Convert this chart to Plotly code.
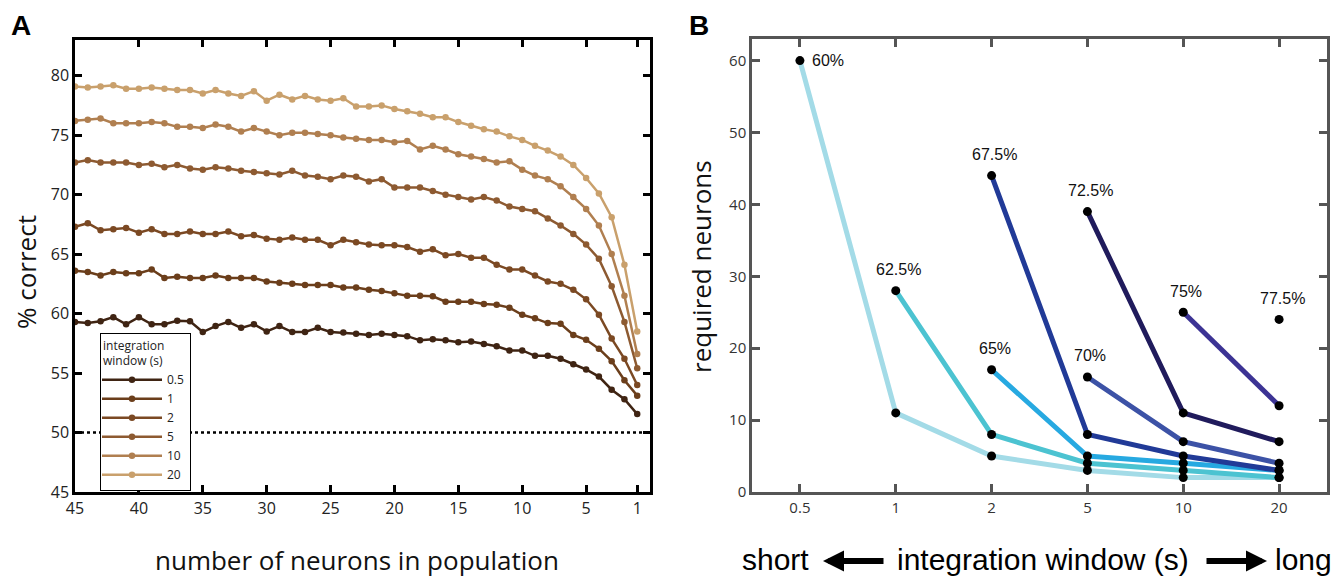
import plotly.graph_objects as go

# ---------------- Panel A data ----------------
neurons = [45, 44, 43, 42, 41, 40, 39, 38, 37, 36, 35, 34, 33, 32, 31, 30, 29, 28, 27, 26, 25,
           24, 23, 22, 21, 20, 19, 18, 17, 16, 15, 14, 13, 12, 11, 10, 9, 8, 7, 6, 5, 4, 3, 2, 1]

acc_0_5 = [59.3, 59.2, 59.35, 59.7, 59.1, 59.7, 59.1, 59.1, 59.4, 59.35, 58.45, 58.95, 59.3, 58.8, 59.1,
           58.5, 58.95, 58.45, 58.45, 58.8, 58.45,
           58.4, 58.3, 58.2, 58.3, 58.2, 58.1, 57.75, 57.85, 57.75, 57.6, 57.65, 57.45, 57.25, 56.9,
           56.9, 56.45, 56.45, 56.2, 55.75, 55.3, 54.7, 53.6, 52.8, 51.55]
acc_1 = [63.6, 63.5, 63.2, 63.5, 63.4, 63.4, 63.7, 63.0, 63.1, 63.0, 63.0, 63.2, 63.0, 63.0, 63.0,
         62.7, 62.6, 62.5, 62.4, 62.4, 62.4,
         62.2, 62.2, 62.0, 61.9, 61.7, 61.5, 61.5, 61.45, 61.0, 61.0, 61.0, 60.8, 60.75, 60.5,
         59.9, 59.6, 59.2, 59.15, 58.2, 57.8, 57.05, 56.0, 54.4, 53.1]
acc_2 = [67.3, 67.6, 67.0, 67.1, 67.2, 66.8, 67.1, 66.7, 66.7, 66.9, 66.7, 66.7, 66.9, 66.5, 66.6,
         66.3, 66.2, 66.4, 66.2, 66.2, 65.75,
         66.2, 66.0, 65.8, 65.75, 65.75, 65.6, 65.2, 65.4, 64.9, 65.0, 64.7, 64.7, 64.1, 63.7,
         63.7, 63.2, 62.7, 62.5, 62.0, 61.2, 59.9, 57.9, 56.2, 54.0]
acc_5 = [72.7, 72.9, 72.7, 72.7, 72.7, 72.5, 72.6, 72.3, 72.5, 72.2, 72.1, 72.3, 72.2, 72.0, 71.9,
         71.8, 71.7, 72.0, 71.6, 71.5, 71.3,
         71.6, 71.5, 71.1, 71.3, 70.6, 70.6, 70.6, 70.3, 70.0, 69.8, 69.6, 69.8, 69.5, 69.0,
         68.8, 68.6, 68.0, 67.4, 66.7, 65.8, 64.6, 62.3, 59.3, 55.4]
acc_10 = [76.2, 76.3, 76.4, 76.0, 76.0, 76.0, 76.1, 76.0, 75.7, 75.7, 75.6, 75.9, 75.7, 75.3, 75.6,
          75.3, 75.0, 75.2, 75.2, 75.1, 75.0,
          74.8, 74.7, 74.6, 74.6, 74.4, 74.5, 73.8, 74.1, 73.8, 73.4, 73.2, 73.0, 72.7, 72.8,
          72.1, 71.6, 71.3, 70.7, 69.8, 68.8, 67.4, 65.0, 61.5, 56.6]
acc_20 = [79.1, 79.0, 79.1, 79.2, 78.9, 78.9, 79.0, 78.9, 78.8, 78.8, 78.5, 78.8, 78.5, 78.3, 78.7,
          77.9, 78.4, 78.0, 78.3, 78.0, 77.9,
          78.1, 77.4, 77.4, 77.5, 77.2, 77.0, 76.8, 76.5, 76.5, 76.1, 75.8, 75.5, 75.3, 74.9,
          74.6, 74.1, 73.7, 73.2, 72.5, 71.4, 70.1, 68.1, 64.1, 58.5]

window_labels_a = ["0.5", "1", "2", "5", "10", "20"]
series_a = [acc_0_5, acc_1, acc_2, acc_5, acc_10, acc_20]
colors_a = ["#3f2413", "#6b3e1b", "#7b4923", "#8d5a31", "#b07f50", "#c9a06c"]
chance_level = 50
x_ticks_a = [45, 40, 35, 30, 25, 20, 15, 10, 5, 1]
y_ticks_a = [45, 50, 55, 60, 65, 70, 75, 80]

# ---------------- Panel B data ----------------
windows = ["0.5", "1", "2", "5", "10", "20"]
thresholds = ["60%", "62.5%", "65%", "67.5%", "70%", "72.5%", "75%", "77.5%"]
req_60 = [60, 11, 5, 3, 2, 2]
req_62_5 = [None, 28, 8, 4, 3, 2]
req_65 = [None, None, 17, 5, 4, 3]
req_67_5 = [None, None, 44, 8, 5, 3]
req_70 = [None, None, None, 16, 7, 4]
req_72_5 = [None, None, None, 39, 11, 7]
req_75 = [None, None, None, None, 25, 12]
req_77_5 = [None, None, None, None, None, 24]
series_b = [req_60, req_62_5, req_65, req_67_5, req_70, req_72_5, req_75, req_77_5]
colors_b = ["#a3dbe7", "#4cc3d1", "#27a9e1", "#213a97", "#3c52a6", "#201b5c", "#3c3394", "#3c3394"]
y_ticks_b = [0, 10, 20, 30, 40, 50, 60]

W, H = 1344, 579
def px(x):
    return x / W
def py(y):
    return 1 - y / H

fig = go.Figure()

# Panel A traces
for lab, vals, col in zip(window_labels_a, series_a, colors_a):
    fig.add_trace(go.Scatter(
        x=neurons, y=vals, mode="lines+markers", name=lab,
        line=dict(color=col, width=2.5), marker=dict(color=col, size=6.5),
        xaxis="x", yaxis="y", showlegend=True))

# Panel B lines
for thr, vals, col in zip(thresholds, series_b, colors_b):
    pts = [(w, v) for w, v in zip(windows, vals) if v is not None]
    fig.add_trace(go.Scatter(
        x=[p[0] for p in pts], y=[p[1] for p in pts], mode="lines",
        line=dict(color=col, width=5), xaxis="x2", yaxis="y2", showlegend=False,
        hoverinfo="skip"))
# Panel B markers on top
for thr, vals in zip(thresholds, series_b):
    pts = [(w, v) for w, v in zip(windows, vals) if v is not None]
    fig.add_trace(go.Scatter(
        x=[p[0] for p in pts], y=[p[1] for p in pts], mode="markers",
        marker=dict(color="black", size=9), xaxis="x2", yaxis="y2", showlegend=False))

annotations = []
lab_font = dict(family="Liberation Sans", size=16, color="#111")
# threshold labels (x given as category index)
for thr, vals in zip(thresholds, series_b):
    i0 = next(i for i, v in enumerate(vals) if v is not None)
    if i0 == 0:
        annotations.append(dict(x=i0, y=vals[i0], xref="x2", yref="y2", text=thr,
                                showarrow=False, xanchor="left", yanchor="middle", xshift=10,
                                font=lab_font))
    else:
        annotations.append(dict(x=i0, y=vals[i0], xref="x2", yref="y2", text=thr,
                                showarrow=False, xanchor="center", yanchor="middle", yshift=21, xshift=3,
                                font=lab_font))

# panel letters
annotations.append(dict(x=px(21), y=py(25), xref="paper", yref="paper", text="<b>A</b>", showarrow=False,
                        xanchor="center", yanchor="middle",
                        font=dict(family="Liberation Sans", size=28, color="black")))
annotations.append(dict(x=px(699), y=py(25), xref="paper", yref="paper", text="<b>B</b>", showarrow=False,
                        xanchor="center", yanchor="middle",
                        font=dict(family="Liberation Sans", size=28, color="black")))
# axis titles
tf = dict(family="Open Sans", size=26, color="#111")
annotations.append(dict(x=px(26), y=py(272), xref="paper", yref="paper", text="% correct", textangle=-90,
                        xanchor="center", yanchor="middle", showarrow=False, font=tf))
annotations.append(dict(x=px(357), y=py(560), xref="paper", yref="paper", text="number of neurons in population",
                        xanchor="center", yanchor="middle", showarrow=False, font=tf))
annotations.append(dict(x=px(701), y=py(267), xref="paper", yref="paper", text="required neurons", textangle=-90,
                        xanchor="center", yanchor="middle", showarrow=False, font=tf))
# bottom text panel B
bf = dict(family="Liberation Sans", size=30, color="black")
annotations.append(dict(x=px(740), y=py(559), xref="paper", yref="paper", text="short", xanchor="left",
                        yanchor="middle", showarrow=False, font=bf))
annotations.append(dict(x=px(895), y=py(559), xref="paper", yref="paper", text="integration window (s)",
                        xanchor="left", yanchor="middle", showarrow=False, font=bf))
annotations.append(dict(x=px(1273), y=py(559), xref="paper", yref="paper", text="long", xanchor="left",
                        yanchor="middle", showarrow=False, font=bf))
annotations.append(dict(x=px(823), y=py(561), xref="paper", yref="paper", text="", showarrow=True,
                        ax=62, ay=0, arrowhead=2, arrowwidth=6, arrowsize=0.7, arrowcolor="black"))
annotations.append(dict(x=px(1267), y=py(561), xref="paper", yref="paper", text="", showarrow=True,
                        ax=-62, ay=0, arrowhead=2, arrowwidth=6, arrowsize=0.7, arrowcolor="black"))

axA = dict(showline=True, linecolor="black", linewidth=2.5, mirror="ticks", ticks="inside",
           ticklen=7, tickwidth=2.5, tickcolor="black", showgrid=False, zeroline=False, automargin=False,
           tickfont=dict(family="Open Sans", size=16, color="#222"))
axB = dict(showline=True, linecolor="#555", linewidth=2.5, mirror="ticks", ticks="inside",
           ticklen=8, tickwidth=2.5, tickcolor="#555", showgrid=False, zeroline=False, automargin=False,
           tickfont=dict(family="Open Sans", size=15, color="#333"))

fig.update_layout(
    width=W, height=H, margin=dict(l=0, r=0, t=0, b=0, autoexpand=False),
    plot_bgcolor="white", paper_bgcolor="white",
    xaxis=dict(domain=[px(75), px(650)], anchor="y", range=[45, 0], tickvals=x_ticks_a, **axA),
    yaxis=dict(domain=[py(492), py(40)], anchor="x", range=[45, 83], tickvals=y_ticks_a, **axA),
    xaxis2=dict(domain=[px(752), px(1327)], anchor="y2", type="category", categoryorder="array",
                categoryarray=windows, range=[-0.5, 5.5], **axB),
    yaxis2=dict(domain=[py(492), py(39)], anchor="x2", range=[0, 63], tickvals=y_ticks_b, **axB),
    legend=dict(x=px(100), y=py(333), xanchor="left", yanchor="top", bordercolor="black", borderwidth=1,
                bgcolor="white", font=dict(family="Open Sans", size=12, color="#222"),
                title=dict(text="integration<br>window (s)", font=dict(family="Open Sans", size=12, color="#222")),
                tracegroupgap=0, itemwidth=60, indentation=-4),
    shapes=[dict(type="line", xref="x domain", yref="y", x0=0, x1=1, y0=chance_level, y1=chance_level,
                 line=dict(color="black", width=2.5, dash="dot"))],
    annotations=annotations,
    showlegend=True,
)

fig.write_html("out.html")
